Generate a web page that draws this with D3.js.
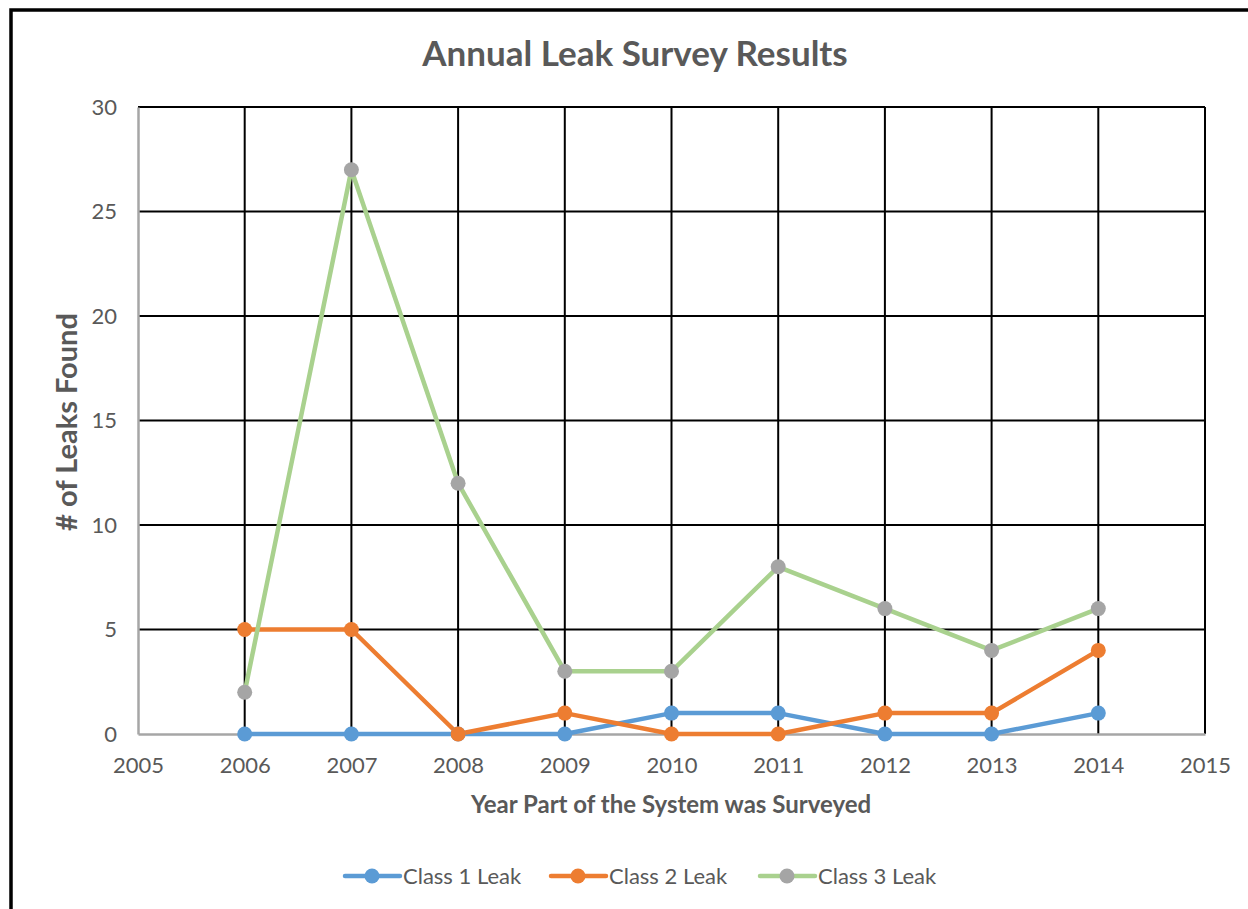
<!DOCTYPE html>
<html>
<head>
<meta charset="utf-8">
<script src="https://cdn.jsdelivr.net/npm/d3@7"></script>
<style>
  html, body { margin: 0; padding: 0; background: #fff; }
  svg { display: block; }
</style>
</head>
<body>
<svg id="chart" width="1248" height="909"></svg>
<script>
// Survey years and leak counts per class
const years = [2006, 2007, 2008, 2009, 2010, 2011, 2012, 2013, 2014];
const class1 = [0, 0, 0, 0, 1, 1, 0, 0, 1];
const class2 = [5, 5, 0, 1, 0, 0, 1, 1, 4];
const class3 = [2, 27, 12, 3, 3, 8, 6, 4, 6];
const seriesNames = ["Class 1 Leak", "Class 2 Leak", "Class 3 Leak"];
const xTicks = [2005, 2006, 2007, 2008, 2009, 2010, 2011, 2012, 2013, 2014, 2015];
const yTicks = [0, 5, 10, 15, 20, 25, 30];

const series = [
  { name: seriesNames[0], values: class1, line: "#5b9bd5", marker: "#5b9bd5" },
  { name: seriesNames[1], values: class2, line: "#ed7d31", marker: "#ed7d31" },
  { name: seriesNames[2], values: class3, line: "#a9d18e", marker: "#a5a5a5" }
];

const font = "Lato, 'Open Sans', sans-serif";
const textColor = "#595959";
const svg = d3.select("#chart");

// outer frame
svg.append("path")
  .attr("d", "M11,909 L11,10 L1248,10")
  .attr("fill", "none").attr("stroke", "#000").attr("stroke-width", 3.5);

const plot = { left: 138, right: 1205, top: 107, bottom: 734 };
const x = d3.scaleLinear().domain([2005, 2015]).range([plot.left, plot.right]);
const y = d3.scaleLinear().domain([0, 30]).range([plot.bottom, plot.top]);

// gridlines
const grid = svg.append("g");
grid.selectAll(".vg").data(xTicks.slice(1)).join("line")
  .attr("x1", d => x(d)).attr("x2", d => x(d))
  .attr("y1", plot.top).attr("y2", plot.bottom)
  .attr("stroke", "#000").attr("stroke-width", 2);
grid.selectAll(".hg").data(yTicks.slice(1)).join("line")
  .attr("x1", plot.left).attr("x2", plot.right)
  .attr("y1", d => y(d)).attr("y2", d => y(d))
  .attr("stroke", "#000").attr("stroke-width", 2);

// axes
const xAxis = svg.append("g").attr("transform", `translate(0,${plot.bottom})`)
  .call(d3.axisBottom(x).tickValues(xTicks).tickFormat(d3.format("d")).tickSize(0).tickPadding(23));
const yAxis = svg.append("g").attr("transform", `translate(${plot.left},0)`)
  .call(d3.axisLeft(y).tickValues(yTicks).tickSize(0).tickPadding(21));
[xAxis, yAxis].forEach(a => {
  a.select(".domain").attr("stroke", "#a6a6a6").attr("stroke-width", 2.5);
  a.selectAll("text").attr("fill", textColor).style("font-family", font).style("font-size", "22px");
});

// series lines and markers
const line = d3.line().x((d, i) => x(years[i])).y(d => y(d));
series.forEach(s => {
  svg.append("path").datum(s.values)
    .attr("d", line).attr("fill", "none")
    .attr("stroke", s.line).attr("stroke-width", 4.5).attr("stroke-linejoin", "round");
});
series.forEach(s => {
  svg.append("g").selectAll("circle").data(s.values).join("circle")
    .attr("cx", (d, i) => x(years[i])).attr("cy", d => y(d)).attr("r", 7.5)
    .attr("fill", s.marker);
});

// titles
svg.append("text").attr("x", 635).attr("y", 66).attr("text-anchor", "middle")
  .attr("fill", textColor).style("font-family", font).style("font-size", "35px").style("font-weight", "bold")
  .text("Annual Leak Survey Results");
svg.append("text").attr("x", 671).attr("y", 813).attr("text-anchor", "middle")
  .attr("fill", textColor).style("font-family", font).style("font-size", "24px").style("font-weight", "bold")
  .text("Year Part of the System was Surveyed");
svg.append("text").attr("transform", "translate(77,422) rotate(-90)").attr("text-anchor", "middle")
  .attr("fill", textColor).style("font-family", font).style("font-size", "29px").style("font-weight", "bold")
  .text("# of Leaks Found");

// legend
const legendX = [345, 551, 760];
series.forEach((s, i) => {
  const g = svg.append("g").attr("transform", `translate(${legendX[i]},876)`);
  g.append("line").attr("x1", 0).attr("x2", 55).attr("stroke", s.line).attr("stroke-width", 4.5).attr("stroke-linecap", "round");
  g.append("circle").attr("cx", 27).attr("r", 7.5).attr("fill", s.marker);
  g.append("text").attr("x", 58).attr("y", 8).attr("fill", textColor)
    .style("font-family", font).style("font-size", "22px").text(s.name);
});
</script>
</body>
</html>
